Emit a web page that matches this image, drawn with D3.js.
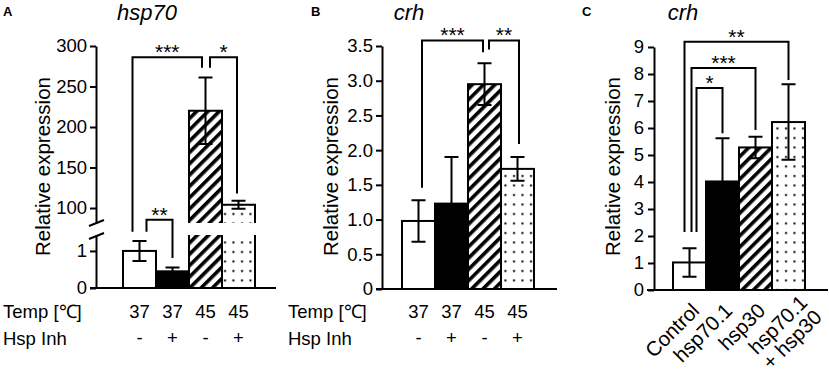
<!DOCTYPE html>
<html>
<head>
<meta charset="utf-8">
<script src="https://cdn.jsdelivr.net/npm/d3@7"></script>
<style>
  body { margin: 0; background: #fff; }
  svg { display: block; font-family: 'Liberation Sans', Arial, sans-serif; }
</style>
</head>
<body>
<svg id="chart" width="829" height="372"></svg>
<script>
// x groups for panels A and B
const tempLabels = ['37', '37', '45', '45']
const inhLabels = ['-', '+', '-', '+']
// x groups for panel C ('|' splits a label over two lines)
const groupsC = ['Control', 'hsp70.1', 'hsp30', 'hsp70.1|+ hsp30']

// panel A: hsp70 relative expression (mean, error)
const hspMean = [1.0, 0.45, 220, 104]
const hspErr = [0.27, 0.1, 41, 5]
// panel B: crh relative expression
const crhMeanB = [0.98, 1.23, 2.95, 1.73]
const crhErrB = [0.3, 0.67, 0.3, 0.17]
// panel C: crh relative expression
const crhMeanC = [1.02, 4.02, 5.28, 6.22]
const crhErrC = [0.53, 1.6, 0.4, 1.4]

// fill of each bar (same order in all panels)
const fills = ['white', 'black', 'url(#hatch)', 'url(#dots)']

// tick values
const ticksALow = [0, 1]
const ticksAHigh = [100, 150, 200, 250, 300]
const ticksB = [0, 0.5, 1, 1.5, 2, 2.5, 3, 3.5]
const ticksC = [0, 1, 2, 3, 4, 5, 6, 7, 8, 9]

// significance brackets: compared bars, label, bracket top and feet (data units)
const sigA = [
  { from: 0, to: 2, label: '***', top: 286, footFrom: 1.52, footTo: 273 },
  { from: 2, to: 3, label: '*', top: 286, footFrom: 273, footTo: 118 },
  { from: 0, to: 1, label: '**', top: 1.84, footFrom: 1.52, footTo: 0.81 },
]
const sigB = [
  { from: 0, to: 2, label: '***', top: 3.58, footFrom: 1.46, footTo: 3.41 },
  { from: 2, to: 3, label: '**', top: 3.58, footFrom: 3.45, footTo: 2.09 },
]
const sigC = [
  { from: 0, to: 3, label: '**', top: 9.19, footFrom: 2.15, footTo: 7.78 },
  { from: 0, to: 2, label: '***', top: 8.22, footFrom: 2.15, footTo: 5.93 },
  { from: 0, to: 1, label: '*', top: 7.48, footFrom: 2.15, footTo: 5.81 },
]

function makeChart() {
  const svg = d3.select('#chart')

  svg.append('rect').attr('width', 829).attr('height', 372).attr('fill', 'white')

  // fill patterns
  const defs = svg.append('defs')
  const hatch = defs.append('pattern')
    .attr('id', 'hatch')
    .attr('patternUnits', 'userSpaceOnUse')
    .attr('width', 8)
    .attr('height', 8)
    .attr('patternTransform', 'rotate(45)')
  hatch.append('rect').attr('width', 8).attr('height', 8).attr('fill', 'white')
  hatch.append('rect').attr('width', 3.6).attr('height', 8).attr('fill', 'black')

  const dots = defs.append('pattern')
    .attr('id', 'dots')
    .attr('patternUnits', 'userSpaceOnUse')
    .attr('width', 8.5)
    .attr('height', 9.5)
  dots.append('rect').attr('width', 8.5).attr('height', 9.5).attr('fill', 'white')
  dots.append('rect').attr('x', 3).attr('y', 4).attr('width', 2).attr('height', 2).attr('fill', 'black')

  const lw = 2
  const tickFont = 18.5

  // style an axis group after d3 drew it
  function styleAxis(g) {
    g.attr('font-size', tickFont).attr('font-family', null)
    g.selectAll('path, line').attr('stroke', 'black').attr('stroke-width', lw)
    g.selectAll('text').attr('fill', 'black')
  }

  // draws bracket + stars
  function drawSig(g, sig, x, y, offsets) {
    const bw = x.bandwidth()
    sig.forEach((s, i) => {
      const x1 = x(s.from) + bw / 2 + offsets[i][0]
      const x2 = x(s.to) + bw / 2 + offsets[i][1]
      g.append('path')
        .attr('d', `M${x1},${y(s.footFrom)}V${y(s.top)}H${x2}V${y(s.footTo)}`)
        .attr('fill', 'none')
        .attr('stroke', 'black')
        .attr('stroke-width', lw)
      g.append('text')
        .attr('x', (x1 + x2) / 2)
        .attr('y', y(s.top) + 2)
        .attr('text-anchor', 'middle')
        .attr('font-size', 21)
        .text(s.label)
    })
  }

  // error bars with caps
  function drawErr(g, x, y, means, errs) {
    const bw = x.bandwidth()
    means.forEach((m, i) => {
      const cx = x(i) + bw / 2
      const lo = y(m - errs[i])
      const hi = y(m + errs[i])
      g.append('path')
        .attr('d', `M${cx},${lo}V${hi}M${cx - 7},${hi}H${cx + 7}M${cx - 7},${lo}H${cx + 7}`)
        .attr('fill', 'none')
        .attr('stroke', 'black')
        .attr('stroke-width', lw)
    })
  }

  function yLabel(g, x) {
    g.append('text')
      .attr('transform', `translate(${x},166.5) rotate(-90)`)
      .attr('text-anchor', 'middle')
      .attr('font-size', 20.5)
      .text('Relative expression')
  }

  function panelTitle(g, letter, lx, title, tx) {
    g.append('text').attr('x', lx).attr('y', 16)
      .attr('font-size', 13).attr('font-weight', 'bold').text(letter)
    g.append('text').attr('x', tx).attr('y', 20)
      .attr('text-anchor', 'middle')
      .attr('font-size', 22).attr('font-style', 'italic').text(title)
  }

  // temp / inhibitor rows under panels A and B
  function rowLabels(g, x, startX) {
    const bw = x.bandwidth()
    g.append('text').attr('x', startX).attr('y', 318).attr('font-size', 18.5).text('Temp [℃]')
    g.append('text').attr('x', startX).attr('y', 345).attr('font-size', 18.5).text('Hsp Inh')
    g.selectAll('.temp').data(tempLabels).join('text')
      .attr('x', (d, i) => x(i) + bw / 2)
      .attr('y', 318)
      .attr('text-anchor', 'middle')
      .attr('font-size', 18.5)
      .text(d => d)
    g.selectAll('.inh').data(inhLabels).join('text')
      .attr('x', (d, i) => x(i) + bw / 2)
      .attr('y', 344)
      .attr('text-anchor', 'middle')
      .attr('font-size', 18.5)
      .text(d => d)
  }

  // ---------- panel A (broken axis) ----------
  const gA = svg.append('g')
  const xA = d3.scaleBand().domain(d3.range(4)).range([123, 255]).padding(0)
  const lowTop = 1.43
  const highBottom = 81.5
  const yALow = d3.scaleLinear().domain([0, lowTop]).range([288, 235])
  const yAHigh = d3.scaleLinear().domain([highBottom, 300]).range([223, 46])
  const yA = v => v < 50 ? yALow(v) : yAHigh(v)

  // bars, tall ones split across the break (no edge drawn at the cut)
  hspMean.forEach((m, i) => {
    const x0 = xA(i)
    const x1 = xA(i) + xA.bandwidth()
    if (m > 50) {
      gA.append('rect')
        .attr('x', x0).attr('width', x1 - x0)
        .attr('y', yALow(lowTop)).attr('height', yALow(0) - yALow(lowTop))
        .attr('fill', fills[i])
      gA.append('path')
        .attr('d', `M${x0},${yALow(lowTop)}V${yALow(0)}M${x1},${yALow(lowTop)}V${yALow(0)}`)
        .attr('stroke', 'black').attr('stroke-width', lw)
      gA.append('rect')
        .attr('x', x0).attr('width', x1 - x0)
        .attr('y', yAHigh(m)).attr('height', yAHigh(highBottom) - yAHigh(m))
        .attr('fill', fills[i])
      gA.append('path')
        .attr('d', `M${x0},${yAHigh(highBottom)}V${yAHigh(m)}H${x1}V${yAHigh(highBottom)}`)
        .attr('fill', 'none').attr('stroke', 'black').attr('stroke-width', lw)
    } else {
      gA.append('rect')
        .attr('x', x0).attr('width', x1 - x0)
        .attr('y', yALow(m)).attr('height', yALow(0) - yALow(m))
        .attr('fill', fills[i]).attr('stroke', 'black').attr('stroke-width', lw)
    }
  })
  drawErr(gA, xA, yA, hspMean, hspErr)

  gA.append('g').attr('transform', 'translate(96,0)')
    .call(d3.axisLeft(yAHigh).tickValues(ticksAHigh).tickSize(6).tickSizeOuter(0).tickPadding(3))
    .call(styleAxis)
  gA.append('g').attr('transform', 'translate(96,0)')
    .call(d3.axisLeft(yALow).tickValues(ticksALow).tickSize(6).tickSizeOuter(0).tickPadding(3)
      .tickFormat(d3.format('d')))
    .call(styleAxis)
  // break marks
  ;[223, 236].forEach(by => {
    gA.append('line')
      .attr('x1', 89).attr('y1', by + 3).attr('x2', 104).attr('y2', by - 3)
      .attr('stroke', 'black').attr('stroke-width', lw)
  })
  gA.append('line').attr('x1', 90).attr('x2', 276).attr('y1', 288).attr('y2', 288)
    .attr('stroke', 'black').attr('stroke-width', lw)

  drawSig(gA, sigA, xA, yA, [[-7, -3.5], [4.5, -1.5], [7, 0]])
  yLabel(gA, 50)
  panelTitle(gA, 'A', 3, 'hsp70', 147)
  rowLabels(gA, xA, 3)

  // ---------- panel B ----------
  const gB = svg.append('g')
  const xB = d3.scaleBand().domain(d3.range(4)).range([402, 534]).padding(0)
  const yB = d3.scaleLinear().domain([0, 3.5]).range([289, 46])

  gB.selectAll('rect.bar').data(crhMeanB).join('rect')
    .attr('class', 'bar')
    .attr('x', (d, i) => xB(i)).attr('width', xB.bandwidth())
    .attr('y', d => yB(d)).attr('height', d => yB(0) - yB(d))
    .attr('fill', (d, i) => fills[i]).attr('stroke', 'black').attr('stroke-width', lw)
  drawErr(gB, xB, yB, crhMeanB, crhErrB)

  gB.append('g').attr('transform', 'translate(382,0)')
    .call(d3.axisLeft(yB).tickValues(ticksB).tickSize(6).tickSizeOuter(0).tickPadding(3)
      .tickFormat(d => d === 0 ? '0' : d3.format('.1f')(d)))
    .call(styleAxis)
  gB.append('line').attr('x1', 376).attr('x2', 557).attr('y1', yB(0)).attr('y2', yB(0))
    .attr('stroke', 'black').attr('stroke-width', lw)

  drawSig(gB, sigB, xB, yB, [[3.5, -1.5], [4.5, 1.5]])
  yLabel(gB, 338)
  panelTitle(gB, 'B', 311, 'crh', 409)
  rowLabels(gB, xB, 288)

  // ---------- panel C ----------
  const gC = svg.append('g')
  const xC = d3.scaleBand().domain(d3.range(4)).range([673, 805]).padding(0)
  const yC = d3.scaleLinear().domain([0, 9]).range([290, 47])

  gC.selectAll('rect.bar').data(crhMeanC).join('rect')
    .attr('class', 'bar')
    .attr('x', (d, i) => xC(i)).attr('width', xC.bandwidth())
    .attr('y', d => yC(d)).attr('height', d => yC(0) - yC(d))
    .attr('fill', (d, i) => fills[i]).attr('stroke', 'black').attr('stroke-width', lw)
  drawErr(gC, xC, yC, crhMeanC, crhErrC)

  gC.append('g').attr('transform', 'translate(654,0)')
    .call(d3.axisLeft(yC).tickValues(ticksC).tickSize(6).tickSizeOuter(0).tickPadding(4))
    .call(styleAxis)
  gC.append('line').attr('x1', 647).attr('x2', 828).attr('y1', yC(0)).attr('y2', yC(0))
    .attr('stroke', 'black').attr('stroke-width', lw)

  drawSig(gC, sigC, xC, yC, [[-5, 0], [2, 0], [7, 0]])
  yLabel(gC, 620)
  panelTitle(gC, 'C', 582, 'crh', 683)

  // rotated category labels
  groupsC.forEach((name, i) => {
    const lines = name.split('|')
    const cx = xC(i) + xC.bandwidth() / 2
    const two = lines.length > 1
    const t = gC.append('text')
      .attr('transform', `translate(${cx + (two ? 20 : 11)},${two ? 304 : 312}) rotate(-45)`)
      .attr('text-anchor', 'end')
      .attr('font-size', 20.5)
    lines.forEach((line, j) => {
      t.append('tspan').attr('x', 0).attr('dy', j === 0 ? 0 : '1.0em').text(line)
    })
  })
}

window.onload = makeChart
</script>
</body>
</html>
